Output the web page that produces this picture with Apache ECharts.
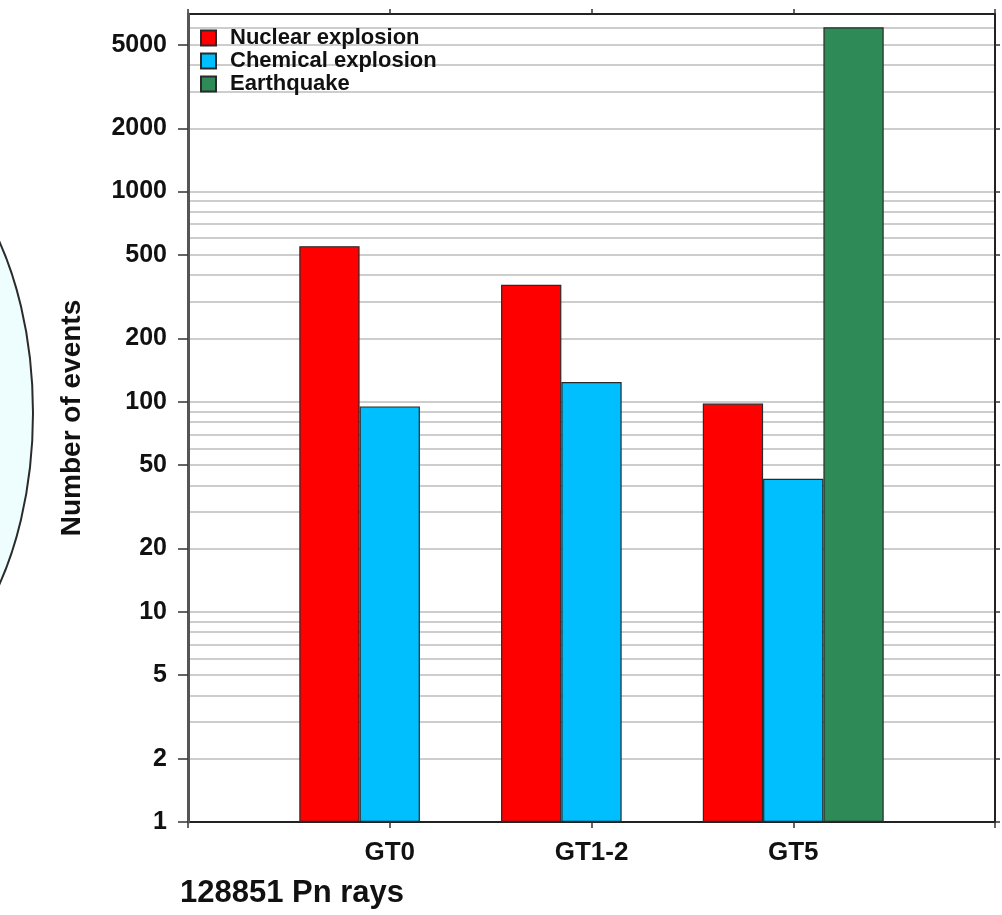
<!DOCTYPE html>
<html>
<head>
<meta charset="utf-8">
<script src="https://cdn.jsdelivr.net/npm/echarts@6/dist/echarts.min.js"></script>
<style>
html,body{margin:0;padding:0;background:#fff;}
#main{width:1002px;height:915px;}
</style>
</head>
<body>
<div id="main"></div>
<script>
// 数据
var categories = ['', 'GT0', 'GT1-2', 'GT5', ''];
var nuclear = [null, 550, 360, 98, null];
var chemical = [null, 95, 124, 43, null];
var earthquake = [null, null, null, 6050, null];
// 刻度
var labelTicks = [1, 2, 5, 10, 20, 50, 100, 200, 500, 1000, 2000, 5000];
var gridTicks = [1, 2, 3, 4, 5, 6, 7, 8, 9, 10, 20, 30, 40, 50, 60, 70, 80, 90,
    100, 200, 300, 400, 500, 600, 700, 800, 900, 1000, 2000, 3000, 4000, 5000, 6000, 7000];

var FONT = '"Liberation Sans", Arial, Helvetica, sans-serif';
var chart = echarts.init(document.getElementById('main'));

var barStyle = function(c){
    return {color: c, borderColor: '#2a2a2a', borderWidth: 1.2};
};

var option = {
    animation: false,
    backgroundColor: '#fff',
    title: {
        text: '128851 Pn rays',
        left: 180,
        top: 878,
        padding: 0,
        textStyle: {fontFamily: FONT, fontWeight: 'bold', fontSize: 31, color: '#111'}
    },
    graphic: [{
        type: 'ellipse',
        z: -10,
        shape: {cx: -120, cy: 413, rx: 153, ry: 274},
        style: {fill: '#eefdfe', stroke: '#2b2b2b', lineWidth: 2}
    }],
    legend: {
        orient: 'vertical',
        left: 200,
        top: 27,
        padding: 0,
        itemWidth: 15,
        itemHeight: 15,
        itemGap: 1,
        icon: 'rect',
        data: ['Nuclear explosion', 'Chemical explosion', 'Earthquake'],
        textStyle: {fontFamily: FONT, fontWeight: 'bold', fontSize: 22, color: '#111', padding: [0, 0, 0, 9]}
    },
    grid: {left: 188, right: 7, top: 14, bottom: 93},
    xAxis: [{
        type: 'category',
        data: categories,
        boundaryGap: false,
        position: 'bottom',
        axisLine: {lineStyle: {color: '#222', width: 2}},
        axisTick: {length: 6, interval: 0, lineStyle: {color: '#333', width: 1.5}},
        axisLabel: {interval: 0, margin: 18, fontFamily: FONT, fontWeight: 'bold', fontSize: 26, color: '#111'},
        splitLine: {show: false}
    }, {
        type: 'category',
        data: categories,
        boundaryGap: false,
        position: 'top',
        axisLine: {lineStyle: {color: '#222', width: 2}},
        axisTick: {length: 5, interval: 0, lineStyle: {color: '#333', width: 1.5}},
        axisLabel: {show: false},
        splitLine: {show: false}
    }],
    yAxis: [{
        type: 'log',
        logBase: 10,
        min: 1,
        max: 7000,
        position: 'left',
        name: 'Number of events',
        nameLocation: 'middle',
        nameGap: 102,
        nameTextStyle: {fontFamily: FONT, fontWeight: 'bold', fontSize: 28, color: '#111'},
        axisLine: {show: true, lineStyle: {color: '#555', width: 3}},
        axisTick: {show: true, length: 10, customValues: labelTicks, lineStyle: {color: '#333', width: 1.5}},
        axisLabel: {
            customValues: labelTicks, margin: 21,
            fontFamily: FONT, fontWeight: 'bold', fontSize: 25, color: '#111',
            formatter: function(v){ return String(Math.round(v)); }
        },
        splitLine: {show: false},
        z: 5
    }, {
        type: 'log',
        logBase: 10,
        min: 1,
        max: 7000,
        position: 'left',
        axisLine: {show: false},
        axisTick: {show: false, customValues: gridTicks},
        axisLabel: {show: false},
        splitLine: {show: true, lineStyle: {color: '#bdbdbd', width: 1.5}},
        z: 0
    }, {
        type: 'log',
        logBase: 10,
        min: 1,
        max: 7000,
        position: 'right',
        axisLine: {show: true, lineStyle: {color: '#222', width: 2}},
        axisTick: {show: true, length: 5, customValues: labelTicks, lineStyle: {color: '#333', width: 1.5}},
        axisLabel: {show: false},
        splitLine: {show: false}
    }],
    series: [{
        name: 'Nuclear explosion',
        type: 'bar',
        barWidth: 60.3,
        barGap: '0%',
        data: nuclear,
        itemStyle: barStyle('#ff0000')
    }, {
        name: 'Chemical explosion',
        type: 'bar',
        barWidth: 60.3,
        barGap: '0%',
        data: chemical,
        itemStyle: barStyle('#00bfff')
    }, {
        name: 'Earthquake',
        type: 'bar',
        barWidth: 60.3,
        barGap: '0%',
        data: earthquake,
        itemStyle: barStyle('#2e8b57')
    }]
};

chart.setOption(option);
</script>
</body>
</html>
